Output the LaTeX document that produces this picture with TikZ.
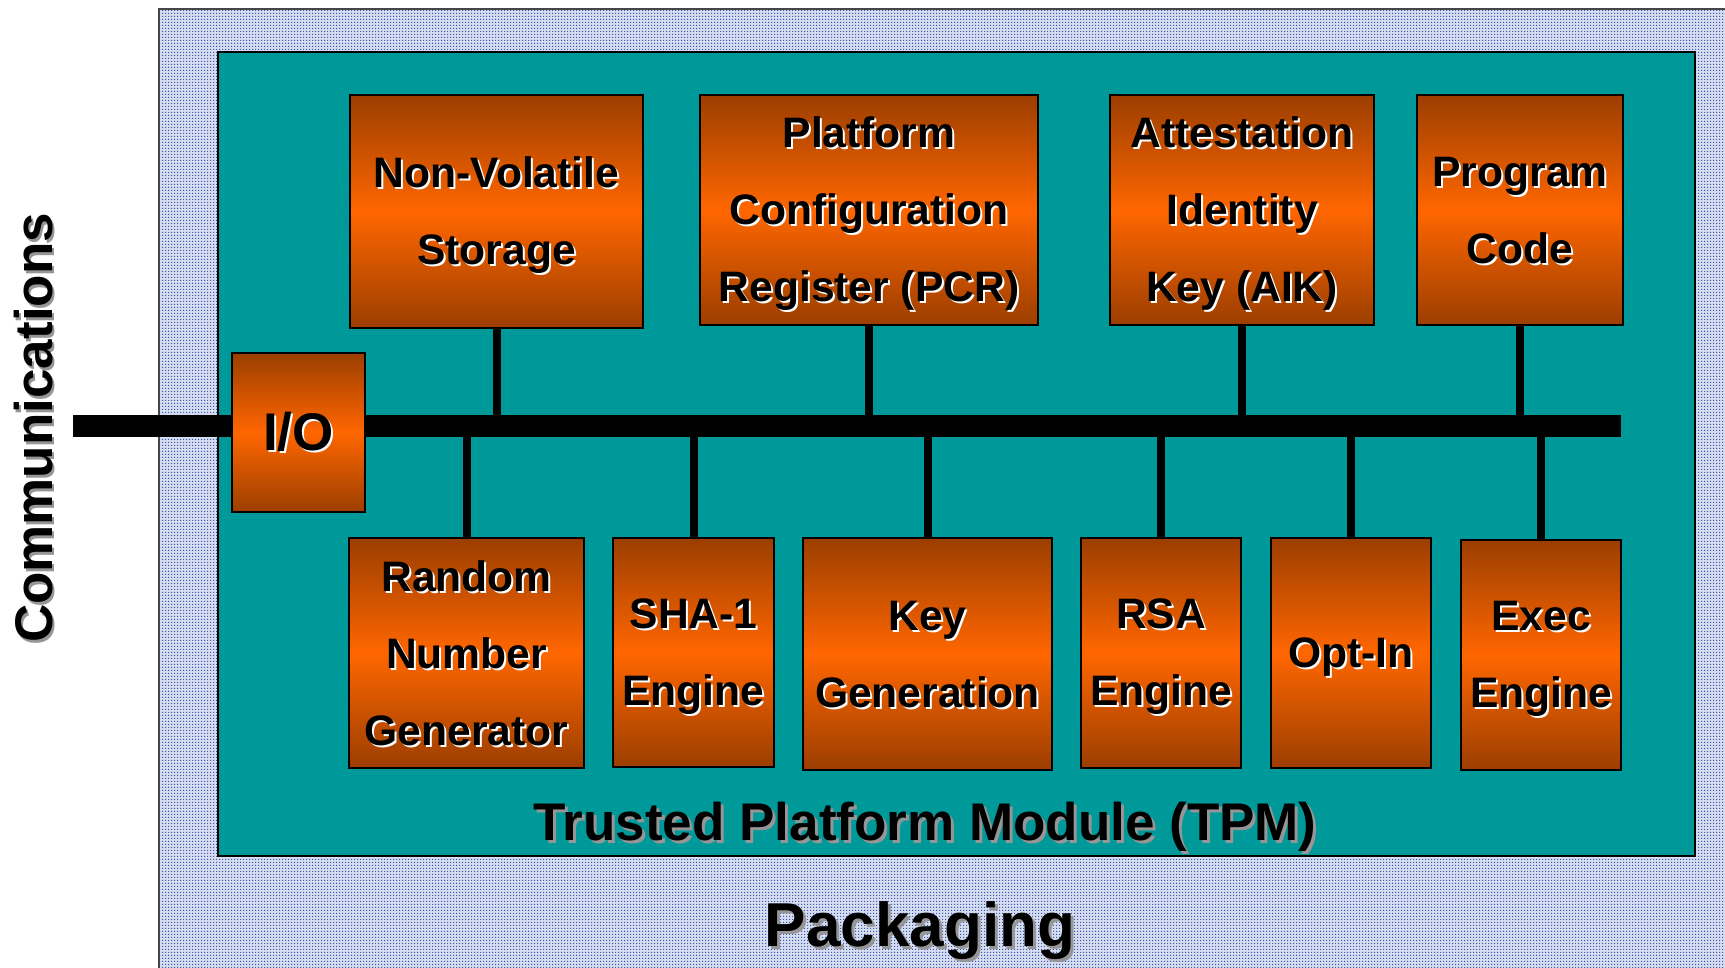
\documentclass[tikz,border=0pt]{standalone}
\usepackage{fontspec}
\setmainfont{Liberation Sans}
\usetikzlibrary{patterns}
\definecolor{tpmteal}{RGB}{0,153,153}
\definecolor{ordark}{RGB}{155,62,0}
\definecolor{orlight}{RGB}{255,102,0}
\definecolor{pkgbg}{RGB}{214,221,240}
\definecolor{pkgdot}{RGB}{55,85,170}
\definecolor{shgray}{RGB}{150,150,150}
\definecolor{pkgline}{RGB}{70,70,70}
\pgfdeclarepatternformonly{pkgdots}{\pgfpointorigin}{\pgfpoint{1.5pt}{1.5pt}}{\pgfpoint{1.5pt}{1.5pt}}{\pgfpathrectangle{\pgfpointorigin}{\pgfpoint{0.75pt}{0.75pt}}\pgfusepath{fill}}
\newcommand\st{\rule[-5pt]{0pt}{25pt}}
\newcommand\sw[1]{\leavevmode\rlap{\kern1pt\raisebox{-1pt}{\color{white}#1}}#1}
\newcommand\bl[1]{\st\sw{#1}}
\newcommand\sg[1]{\leavevmode\rlap{\kern1.5pt\raisebox{-1.5pt}{\color{shgray}#1}}#1}
\newcommand\sgr[1]{\leavevmode\rlap{\kern-1.5pt\raisebox{-1.5pt}{\color{shgray}#1}}#1}
\tikzset{
  obox/.style={draw=black, line width=1.3pt, top color=ordark, bottom color=ordark, middle color=orlight,
    inner sep=0pt, align=center, text=black, font=\fontsize{21.3}{38.5}\selectfont\bfseries},
  bus/.style={line width=11pt, black},
  conn/.style={line width=4pt, black},
  ttl/.style={inner sep=0pt, anchor=base, text=black}
}
\begin{document}
\begin{tikzpicture}[x=0.5pt, y=-0.5pt]
\useasboundingbox (0,0) rectangle (1725,968);
\clip (0,0) rectangle (1725,968);
% packaging
\path[fill=pkgbg] (159,9) rectangle (1780,1000);
\path[pattern=pkgdots, pattern color=pkgdot] (159,9) rectangle (1780,1000);
\draw[pkgline, line width=1pt] (159,1000) -- (159,9) -- (1780,9);
% TPM
\draw[fill=tpmteal, line width=1.4pt] (218,52) rectangle (1695,856);
% bus
\coordinate (busL) at (73,426);
\coordinate (busR) at (1621,426);
\draw[bus] (busL) -- (busR);
% boxes
\node[obox, minimum width=146.5pt, minimum height=116.5pt] (nv) at (496.5,211.5) {\bl{Non-Volatile}\\\bl{Storage}};
\node[obox, minimum width=169pt, minimum height=115pt] (pcr) at (869,210) {\bl{Platform}\\\bl{Configuration}\\\bl{Register (PCR)}};
\node[obox, minimum width=132pt, minimum height=115pt] (aik) at (1242,210) {\bl{Attestation}\\\bl{Identity}\\\bl{Key (AIK)}};
\node[obox, minimum width=103pt, minimum height=115pt] (pc) at (1520,210) {\bl{Program}\\\bl{Code}};
\node[obox, minimum width=66.5pt, minimum height=79.5pt, font=\fontsize{26.5}{30}\selectfont\bfseries] (io) at (298.5,432.5) {\sw{I/O}};
\node[obox, minimum width=117.5pt, minimum height=115pt] (rng) at (466.5,653) {\bl{Random}\\\bl{Number}\\\bl{Generator}};
\node[obox, minimum width=80.5pt, minimum height=114.5pt] (sha) at (693.5,652.5) {\bl{SHA-1}\\\bl{Engine}};
\node[obox, minimum width=124.5pt, minimum height=116pt] (kg) at (927.5,654) {\bl{Key}\\\bl{Generation}};
\node[obox, minimum width=80pt, minimum height=115pt] (rsa) at (1161,653) {\bl{RSA}\\\bl{Engine}};
\node[obox, minimum width=80pt, minimum height=115pt] (opt) at (1351,653) {\bl{Opt-In}};
\node[obox, minimum width=80pt, minimum height=115pt] (exec) at (1541,655) {\bl{Exec}\\\bl{Engine}};
% connectors
\draw[conn] (nv.south) -- (nv.south |- busL);
\draw[conn] (pcr.south) -- (pcr.south |- busL);
\draw[conn] (aik.south) -- (aik.south |- busL);
\draw[conn] (pc.south) -- (pc.south |- busL);
\draw[conn] (rng.north) -- (rng.north |- busL);
\draw[conn] (sha.north) -- (sha.north |- busL);
\draw[conn] (kg.north) -- (kg.north |- busL);
\draw[conn] (rsa.north) -- (rsa.north |- busL);
\draw[conn] (opt.north) -- (opt.north |- busL);
\draw[conn] (exec.north) -- (exec.north |- busL);
% titles
\node[ttl, font=\fontsize{26.5}{30}\selectfont\bfseries] (tpmt) at (925,840) {\sg{Trusted Platform Module (TPM)}};
\node[ttl, font=\fontsize{31}{34}\selectfont\bfseries] (pkgt) at (920,946) {\sg{Packaging}};
\node[ttl, rotate=90, font=\fontsize{26.5}{30}\selectfont\bfseries] (comm) at (52,428) {\sgr{Communications}};
\end{tikzpicture}
\end{document}
